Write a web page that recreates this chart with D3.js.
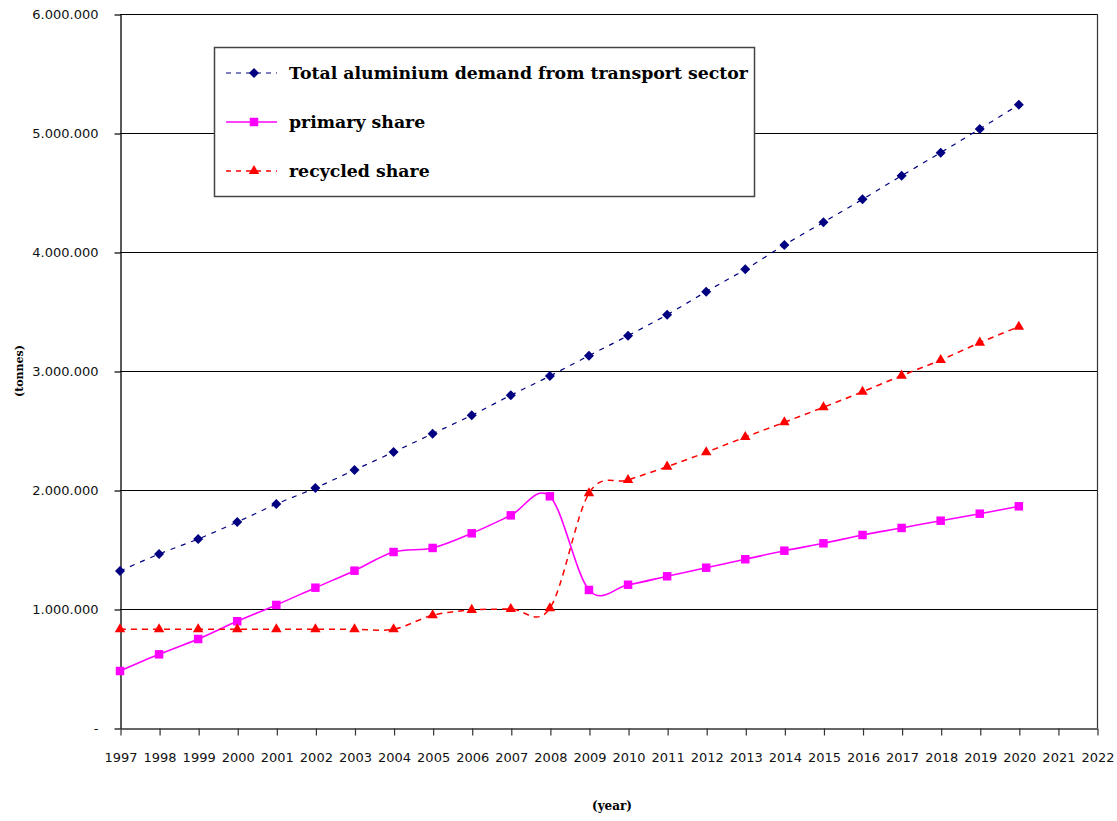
<!DOCTYPE html>
<html>
<head>
<meta charset="utf-8">
<script src="https://cdn.jsdelivr.net/npm/d3@7"></script>
<style>
  html, body { margin: 0; padding: 0; background: #fff; }
  svg { display: block; }
</style>
</head>
<body>
<script>
// Aluminium demand from the transport sector, 1997–2020 (tonnes)
const years = [1997, 1998, 1999, 2000, 2001, 2002, 2003, 2004, 2005, 2006, 2007, 2008,
               2009, 2010, 2011, 2012, 2013, 2014, 2015, 2016, 2017, 2018, 2019, 2020];

const totalDemand = [1319000, 1462000, 1588000, 1731000, 1882000, 2017000, 2168000, 2319000,
                     2473000, 2628000, 2796000, 2958000, 3129000, 3297000, 3473000, 3667000,
                     3854000, 4059000, 4250000, 4443000, 4641000, 4835000, 5034000, 5238000];

const primaryShare = [479000, 619000, 748000, 897000, 1034000, 1179000, 1322000, 1479000,
                      1513000, 1636000, 1787000, 1947000, 1160000, 1204000, 1275000, 1347000,
                      1418000, 1490000, 1552000, 1622000, 1681000, 1742000, 1801000, 1863000];

const recycledShare = [830000, 830000, 830000, 830000, 830000, 830000, 830000, 830000,
                       947000, 992000, 1000000, 1006000, 1972000, 2084000, 2196000, 2317000,
                       2445000, 2569000, 2695000, 2826000, 2961000, 3092000, 3238000, 3372000];

const seriesNames = ["Total aluminium demand from transport sector", "primary share", "recycled share"];

const xTickValues = [1997, 1998, 1999, 2000, 2001, 2002, 2003, 2004, 2005, 2006, 2007, 2008, 2009,
                     2010, 2011, 2012, 2013, 2014, 2015, 2016, 2017, 2018, 2019, 2020, 2021, 2022];
const yTickValues = [0, 1000000, 2000000, 3000000, 4000000, 5000000, 6000000];
const yTickLabels = ["-", "1.000.000", "2.000.000", "3.000.000", "4.000.000", "5.000.000", "6.000.000"];

const W = 1117, H = 821;
const plot = { left: 120, right: 1097, top: 14, bottom: 728 };

const svg = d3.select("body").append("svg")
  .attr("width", W).attr("height", H)
  .attr("viewBox", `0 0 ${W} ${H}`);

const x = d3.scaleLinear().domain([1997, 2022]).range([plot.left, plot.right]);
const y = d3.scaleLinear().domain([0, 6000000]).range([plot.bottom, plot.top]);

const tickFont = "'DejaVu Sans', Verdana, sans-serif";
const titleFont = "'DejaVu Serif', 'Liberation Serif', serif";

// horizontal gridlines
svg.append("g")
  .selectAll("line")
  .data(yTickValues.filter(v => v > 0))
  .join("line")
  .attr("x1", plot.left).attr("x2", plot.right)
  .attr("y1", d => Math.round(y(d)) + 0.5).attr("y2", d => Math.round(y(d)) + 0.5)
  .attr("stroke", "#000").attr("stroke-width", 1.2);

// right border of the plot area
svg.append("line")
  .attr("x1", plot.right + 0.5).attr("x2", plot.right + 0.5)
  .attr("y1", plot.top).attr("y2", plot.bottom)
  .attr("stroke", "#333").attr("stroke-width", 1.2);

// y axis
const yAxis = svg.append("g")
  .attr("transform", `translate(${plot.left + 0.5},0.5)`)
  .call(d3.axisLeft(y)
    .tickValues(yTickValues)
    .tickFormat((d, i) => yTickLabels[i])
    .tickSize(6).tickSizeOuter(0).tickPadding(16));
yAxis.select(".domain").attr("stroke", "#000").attr("stroke-width", 1.3);
yAxis.selectAll(".tick line").attr("stroke", "#000").attr("stroke-width", 1.2);
yAxis.selectAll(".tick text")
  .attr("font-family", tickFont).attr("font-size", 13).attr("fill", "#111");

// x axis
const xAxis = svg.append("g")
  .attr("transform", `translate(0.5,${plot.bottom + 0.5})`)
  .call(d3.axisBottom(x)
    .tickValues(xTickValues)
    .tickFormat(d3.format("d"))
    .tickSize(7).tickSizeOuter(0).tickPadding(17));
xAxis.select(".domain").attr("stroke", "#333").attr("stroke-width", 1.3);
xAxis.selectAll(".tick line").attr("stroke", "#333").attr("stroke-width", 1.2);
xAxis.selectAll(".tick text")
  .attr("font-family", tickFont).attr("font-size", 13).attr("fill", "#111");

// axis titles
svg.append("text")
  .attr("transform", `translate(23,371) rotate(-90)`)
  .attr("text-anchor", "middle")
  .attr("font-family", titleFont).attr("font-weight", "bold").attr("font-size", 11)
  .text("(tonnes)");

svg.append("text")
  .attr("x", 612).attr("y", 810)
  .attr("text-anchor", "middle")
  .attr("font-family", titleFont).attr("font-weight", "bold").attr("font-size", 12)
  .text("(year)");

// series definitions
const diamond = d3.symbol().type(d3.symbolSquare).size(50);
const square = d3.symbol().type(d3.symbolSquare).size(72);
const triangle = d3.symbol().type(d3.symbolTriangle).size(48);

const series = [
  { name: seriesNames[0], values: totalDemand, color: "#000080", width: 1.2, dash: "5,6",
    marker: diamond, rotate: 45 },
  { name: seriesNames[1], values: primaryShare, color: "#ff00ff", width: 1.6, dash: null,
    marker: square, rotate: 0 },
  { name: seriesNames[2], values: recycledShare, color: "#ff0000", width: 1.5, dash: "6,5",
    marker: triangle, rotate: 0 }
];

const line = d3.line()
  .x(d => x(d[0]))
  .y(d => y(d[1]))
  .curve(d3.curveCatmullRom.alpha(0));

// lines first, markers on top
series.forEach(s => {
  const pts = years.map((yr, i) => [yr, s.values[i]]);
  svg.append("path")
    .datum(pts)
    .attr("d", line)
    .attr("fill", "none")
    .attr("stroke", s.color)
    .attr("stroke-width", s.width)
    .attr("stroke-dasharray", s.dash);
});

series.forEach(s => {
  const pts = years.map((yr, i) => [yr, s.values[i]]);
  svg.append("g")
    .selectAll("path")
    .data(pts)
    .join("path")
    .attr("d", s.marker())
    .attr("transform", d => `translate(${x(d[0])},${y(d[1])}) rotate(${s.rotate})`)
    .attr("fill", s.color);
});

// legend
const legend = svg.append("g");
legend.append("rect")
  .attr("x", 214.5).attr("y", 47.5).attr("width", 540).attr("height", 149)
  .attr("fill", "#fff").attr("stroke", "#444").attr("stroke-width", 1.5);

const rowY = [73, 122, 171];
series.forEach((s, i) => {
  const g = legend.append("g");
  g.append("line")
    .attr("x1", 226).attr("x2", 277)
    .attr("y1", rowY[i]).attr("y2", rowY[i])
    .attr("stroke", s.color).attr("stroke-width", s.width)
    .attr("stroke-dasharray", s.dash ? "5,5" : null);
  g.append("path")
    .attr("d", s.marker())
    .attr("transform", `translate(254,${rowY[i]}) rotate(${s.rotate})`)
    .attr("fill", s.color);
  g.append("text")
    .attr("class", "legend-label")
    .attr("x", 289).attr("y", rowY[i] + 6)
    .attr("font-family", titleFont).attr("font-weight", "bold").attr("font-size", 16)
    .attr("fill", "#000")
    .text(s.name);
});

// size the legend font so the longest label spans the box width
const labels = legend.selectAll(".legend-label");
const longest = labels.nodes()[0].getComputedTextLength();
if (longest > 0) {
  const fs = 16 * 459 / longest;
  labels.attr("font-size", fs.toFixed(2));
}
</script>
</body>
</html>
